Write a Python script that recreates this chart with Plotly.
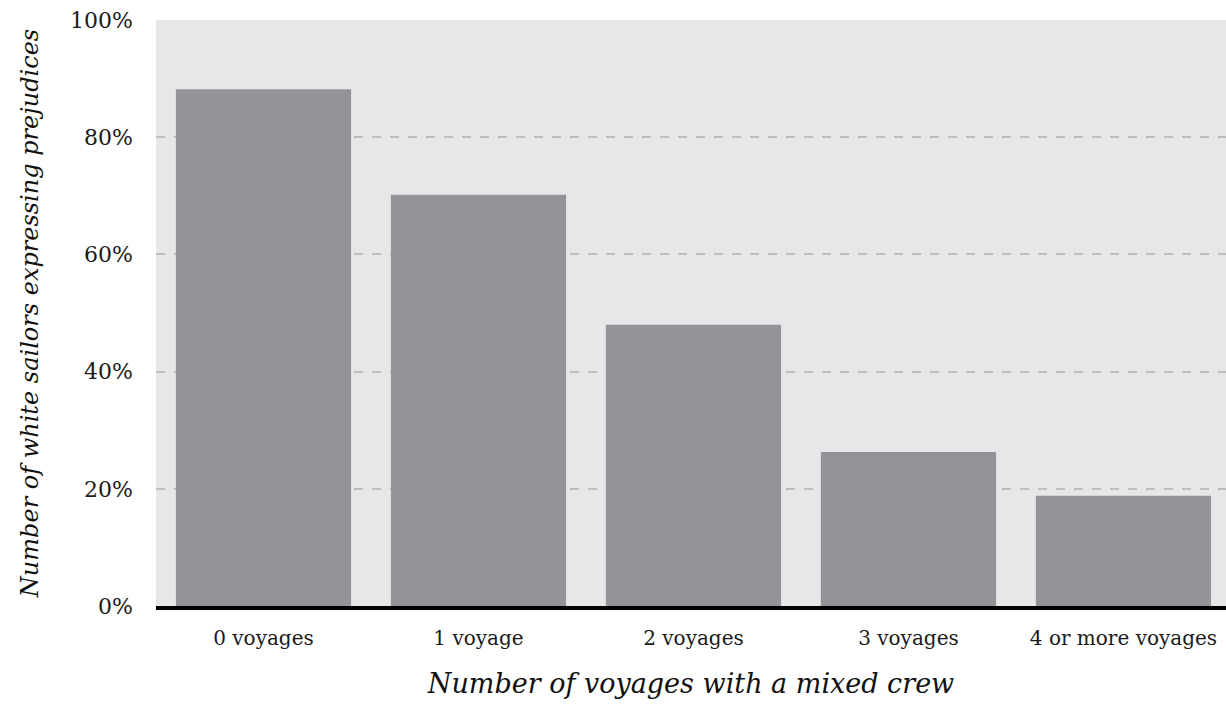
import plotly.graph_objects as go

categories = ["0 voyages", "1 voyage", "2 voyages", "3 voyages", "4 or more voyages"]
values = [88.2, 70.2, 48.0, 26.3, 18.8]
y_ticks = [0, 20, 40, 60, 80, 100]
y_ticklabels = ["0%", "20%", "40%", "60%", "80%", "100%"]

FONT = "DejaVu Serif"

fig = go.Figure()
fig.add_trace(go.Bar(
    x=list(range(len(categories))),
    y=values,
    width=0.815,
    marker=dict(color="#939497", line=dict(width=0)),
    hoverinfo="skip",
))

fig.update_layout(
    width=1226, height=728,
    margin=dict(l=156, r=0, t=20, b=122),
    paper_bgcolor="white",
    plot_bgcolor="#e6e7e9",
    showlegend=False,
    font=dict(family=FONT, color="#1a1a1a"),
    xaxis=dict(
        tickmode="array",
        tickvals=list(range(len(categories))),
        ticktext=categories,
        range=[-0.5, 4.477],
        showgrid=False,
        zeroline=False,
        showline=True,
        linecolor="black",
        linewidth=4,
        ticks="",
        ticklabelstandoff=11,
        tickfont=dict(family=FONT, size=20, color="#1a1a1a"),
        title=dict(text="<i>Number of voyages with a mixed crew</i>",
                   font=dict(family=FONT, size=27, color="#111111"),
                   standoff=26),
    ),
    yaxis=dict(
        tickmode="array",
        tickvals=y_ticks,
        ticktext=y_ticklabels,
        range=[0, 100],
        showgrid=True,
        gridcolor="#bdbec0",
        griddash="dash",
        gridwidth=1.5,
        zeroline=False,
        showline=False,
        ticks="",
        ticklabelstandoff=22,
        tickfont=dict(family=FONT, size=22, color="#1a1a1a"),
        title=dict(text="<i>Number of white sailors expressing prejudices</i>",
                   font=dict(family=FONT, size=24, color="#111111"),
                   standoff=24),
    ),
)

fig.write_html("out.html", config={"displayModeBar": False},
               post_script="document.body.style.margin='0';")
